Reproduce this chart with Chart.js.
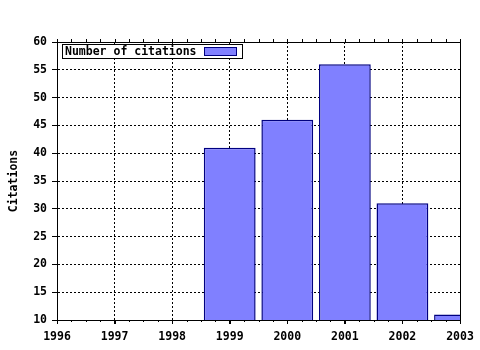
<!DOCTYPE html>
<html>
<head>
<meta charset="utf-8">
<script src="https://cdn.jsdelivr.net/npm/chart.js@4/dist/chart.umd.min.js"></script>
<style>
  html, body { margin: 0; padding: 0; background: #fff; }
  #wrap { width: 480px; height: 350px; }
</style>
</head>
<body>
<div id="wrap"><canvas id="chart" width="480" height="350"></canvas></div>
<script>
/* Data */
const years = [1999, 2000, 2001, 2002, 2003];
const citations = [41, 46, 56, 31, 11];
const seriesLabel = "Number of citations";
const yTitle = "Citations";
const yMin = 10, yMax = 60, yStep = 5;
const xMin = 1996, xMax = 2003;

const FONT = { family: "'DejaVu Sans Mono', 'Liberation Mono', monospace", size: 11.5, weight: "bold" };
const BAR_FILL = "#8080ff";
const BAR_EDGE = "#000080";

/* Frame, minor ticks on x and the boxed legend (swatch after text) */
const framePlugin = {
    id: "frame",
    afterDraw(chart) {
        const { ctx, chartArea: a, scales: { x } } = chart;
        ctx.save();
        ctx.strokeStyle = "#000";
        ctx.lineWidth = 1;
        ctx.beginPath();
        ctx.rect(Math.round(a.left) + 0.5, Math.round(a.top) + 0.5,
                 Math.round(a.right - a.left), Math.round(a.bottom - a.top));
        ctx.stroke();

        /* quarter-year ticks on bottom and top edges */
        ctx.beginPath();
        for (let v = xMin; v <= xMax + 1e-6; v += 0.25) {
            const px = Math.round(x.getPixelForValue(v)) + 0.5;
            const major = Math.abs(v - Math.round(v)) < 1e-6;
            const len = major ? 4 : 2;
            ctx.moveTo(px, Math.round(a.bottom));
            ctx.lineTo(px, Math.round(a.bottom) + len);
            ctx.moveTo(px, Math.round(a.top) - 3);
            ctx.lineTo(px, Math.round(a.top));
        }
        ctx.stroke();

        /* legend box */
        const ds = chart.data.datasets[0];
        ctx.font = `${FONT.weight} ${FONT.size}px ${FONT.family}`;
        ctx.textBaseline = "middle";
        ctx.textAlign = "left";
        const bx = Math.round(a.left) + 5, by = Math.round(a.top) + 2;
        const bw = 180, bh = 14;
        ctx.fillStyle = "#fff";
        ctx.fillRect(bx, by, bw, bh);
        ctx.strokeRect(bx + 0.5, by + 0.5, bw, bh);
        ctx.fillStyle = "#000";
        ctx.fillText(ds.label, bx + 3, by + bh / 2 + 1);
        const sx = bx + 142, sy = by + 3;
        ctx.fillStyle = ds.backgroundColor;
        ctx.fillRect(sx, sy, 32, 8);
        ctx.strokeStyle = ds.borderColor;
        ctx.strokeRect(sx + 0.5, sy + 0.5, 32, 8);
        ctx.restore();
    },
};

new Chart(document.getElementById("chart"), {
    type: "bar",
    data: {
        datasets: [{
            label: seriesLabel,
            data: years.map((y, i) => ({ x: y, y: citations[i] })),
            backgroundColor: BAR_FILL,
            borderColor: BAR_EDGE,
            borderWidth: 1.5,
            borderSkipped: false,
            barPercentage: 0.9,
            categoryPercentage: 1.0,
            clip: 0,
        }],
    },
    options: {
        responsive: false,
        animation: false,
        layout: { padding: { left: 0, right: 20, top: 42, bottom: 0 } },
        plugins: {
            legend: { display: false },
            tooltip: { enabled: false },
        },
        scales: {
            x: {
                type: "linear",
                min: xMin,
                max: xMax,
                offset: false,
                ticks: {
                    stepSize: 1,
                    color: "#000",
                    font: FONT,
                    padding: 6,
                    maxRotation: 0,
                    callback: v => String(v),
                },
                grid: { offset: false, color: "#000", lineWidth: 1, tickLength: 4, tickColor: "#000" },
                border: { display: true, color: "#000", dash: [2, 2] },
                afterFit(s) { s.height = 30; },
            },
            y: {
                min: yMin,
                max: yMax,
                ticks: { stepSize: yStep, color: "#000", font: FONT, padding: 5 },
                grid: { color: "#000", lineWidth: 1, tickLength: 5, tickColor: "#000" },
                border: { display: true, color: "#000", dash: [2, 2] },
                title: { display: true, text: yTitle, color: "#000", font: FONT, padding: { top: 7, bottom: 0 } },
                afterFit(s) { s.width = 57; },
            },
        },
    },
    plugins: [framePlugin],
});
</script>
</body>
</html>
